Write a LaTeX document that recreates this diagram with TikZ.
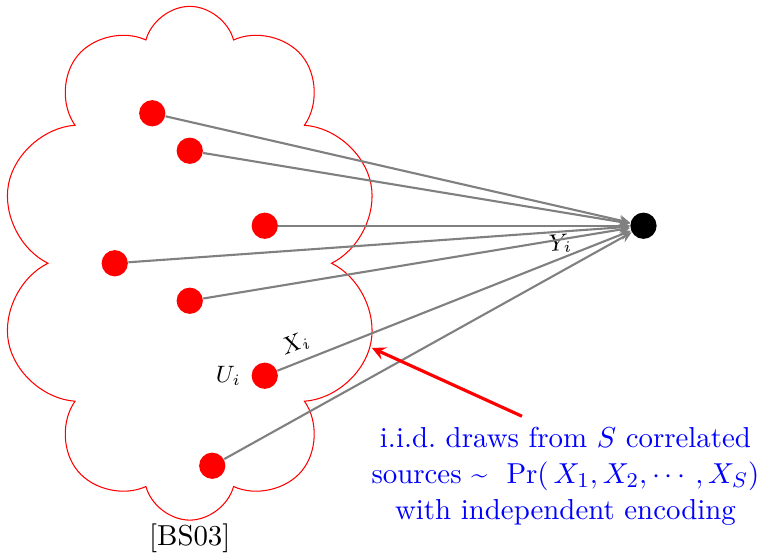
\documentclass[tikz,border=0pt,11pt]{standalone}
\usepackage{amsmath}
\usetikzlibrary{shapes.symbols,arrows}

\begin{document}
\begin{tikzpicture}[
    source/.style={circle, fill=red, inner sep=0pt, minimum size=0.35cm},
    link/.style={-stealth, thick, gray},
    tag/.style={font=\footnotesize, text=black}
  ]
    \useasboundingbox (-0.03,0.01) rectangle (10.077,-7.363);

    % Cloud of sources
    \node[cloud, draw=red, cloud puffs=10, cloud ignores aspect, minimum width=5.08cm, minimum height=6.85cm] (cloud) at (2.5,-3.5) {};
    \node[below, inner sep=1pt] (ref) at (cloud.south) {[BS03]};

    % Nodes
    \node[source] (u1) at (2,-1.5) {};
    \node[source] (u2) at (2.5,-2) {};
    \node[source] (u3) at (3.5,-3) {};
    \node[source] (u4) at (1.5,-3.5) {};
    \node[source] (u5) at (2.5,-4) {};
    \node[source] (u6) at (3.5,-5) {};
    \node[source] (u7) at (2.8,-6.2) {};
    \node[circle, fill=black, inner sep=0pt, minimum size=0.35cm] (y) at (8.55,-3) {};
    \node[left, tag] (ulabel) at (u6.west) {$U_i$};

    % Edges
    \draw[link] (u1) -- (y);
    \draw[link] (u2) -- (y);
    \draw[link] (u3) -- (y);
    \draw[link] (u4) -- node[pos=0.86, below, sloped, inner sep=0.5pt, tag] {$Y_i$} (y);
    \draw[link] (u5) -- (y);
    \draw[link] (u6) -- node[pos=0.07, above, sloped, inner sep=3pt, tag] {$X_i$} (y);
    \draw[link] (u7) -- (y);

    % Note
    \node[text=blue, align=center] (note) at (7.51,-6.34) {i.i.d.\ draws from $S$ correlated\\ sources \textasciitilde\ \ $\Pr(\,X_1, X_2, \cdots\,, X_S)$\\ with independent encoding};
    \coordinate (tail) at (6.93,-5.54);
    \coordinate (head) at (4.93,-4.63);
    \draw[-stealth, very thick, red] (tail) -- (head);
  \end{tikzpicture}
\end{document}
